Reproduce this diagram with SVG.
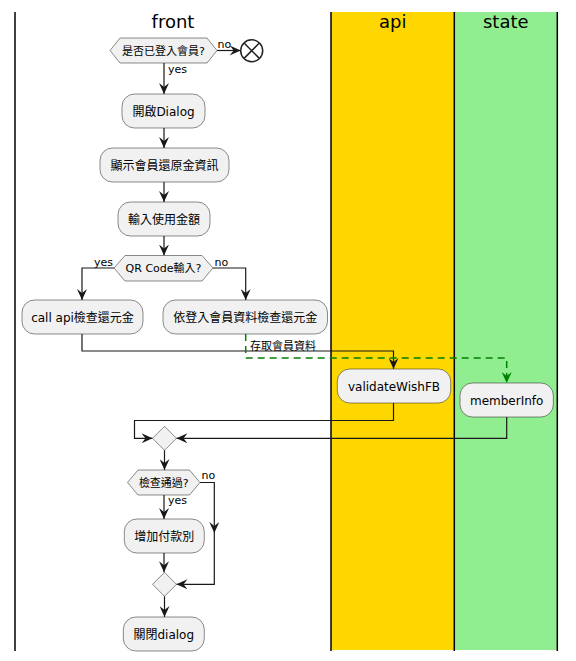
<svg xmlns="http://www.w3.org/2000/svg" width="576" height="661" viewBox="0 0 576 661">
<style>
text{font-family:"DejaVu Sans","Noto Sans CJK TC",sans-serif;fill:#000}
.hdr{font-size:18px;text-anchor:middle}
.lbl{font-size:12px;text-anchor:middle}
.hx{font-size:11px;text-anchor:middle}
.sm{font-size:11px}
.box{fill:#F1F1F1;stroke:#181818;stroke-width:0.5}
.lane{stroke:#000;stroke-width:1.5}
.c{fill:none;stroke:#181818;stroke-width:1.2}
.g{fill:none;stroke:#008000;stroke-width:1.5;stroke-dasharray:7,5}
</style>
<defs>
<marker id="ah" markerUnits="userSpaceOnUse" markerWidth="11" markerHeight="10" refX="11" refY="5" orient="auto" viewBox="0 0 11 10">
<path d="M0,0 L11,5 L0,10 L4,5 Z" fill="#181818"/>
</marker>
<marker id="ahg" markerUnits="userSpaceOnUse" markerWidth="11" markerHeight="10" refX="11" refY="5" orient="auto" viewBox="0 0 11 10">
<path d="M0,0 L11,5 L0,10 L4,5 Z" fill="#008000"/>
</marker>
</defs>
<g id="lanes">
<rect x="331" y="12" width="123.3" height="638" fill="#FFD700"/>
<rect x="454.3" y="12" width="103" height="638" fill="#90EE90"/>
<line class="lane" x1="15" y1="12" x2="15" y2="651"/>
<line class="lane" x1="331" y1="12" x2="331" y2="651"/>
<line class="lane" x1="454.3" y1="12" x2="454.3" y2="651"/>
<line class="lane" x1="557.3" y1="12" x2="557.3" y2="651"/>
<text class="hdr" x="173" y="28">front</text>
<text class="hdr" x="392.7" y="28">api</text>
<text class="hdr" x="505.8" y="28">state</text>
</g>
<g id="connectors">
<path class="c" d="M164,63 L164,94" marker-end="url(#ah)"/>
<path class="c" d="M217,50.5 L240.7,50.5" marker-end="url(#ah)"/>
<path class="c" d="M164,128 L164,148" marker-end="url(#ah)"/>
<path class="c" d="M164,182 L164,202" marker-end="url(#ah)"/>
<path class="c" d="M164,236 L164,255.5" marker-end="url(#ah)"/>
<path class="c" d="M114,268 L82,268 L82,300" marker-end="url(#ah)"/>
<path class="c" d="M213,268 L245.7,268 L245.7,300" marker-end="url(#ah)"/>
<path class="c" d="M82,334 L82,351 L393.5,351 L393.5,369" marker-end="url(#ah)"/>
<path class="g" d="M245.7,334 L245.7,358 L506.7,358 L506.7,383" marker-end="url(#ahg)"/>
<path class="c" d="M393.5,403 L393.5,420.5 L134.5,420.5 L134.5,438.3 L152.5,438.3" marker-end="url(#ah)"/>
<path class="c" d="M506.7,417 L506.7,438.3 L176.5,438.3" marker-end="url(#ah)"/>
<path class="c" d="M164.5,450.3 L164.5,470" marker-end="url(#ah)"/>
<path class="c" d="M164,495 L164,519" marker-end="url(#ah)"/>
<path class="c" d="M200,482.5 L214.3,482.5 L214.3,533" marker-end="url(#ah)"/>
<path class="c" d="M214.3,533 L214.3,584.3 L176.5,584.3" marker-end="url(#ah)"/>
<path class="c" d="M164,553 L164,572.3" marker-end="url(#ah)"/>
<path class="c" d="M164.5,596.3 L164.5,617" marker-end="url(#ah)"/>
<text class="sm" x="168" y="73">yes</text>
<text class="sm" x="217.5" y="48">no</text>
<text class="sm" x="113" y="266" text-anchor="end">yes</text>
<text class="sm" x="214.5" y="266">no</text>
<text class="sm" x="250" y="350">存取會員資料</text>
<text class="sm" x="201.5" y="479">no</text>
<text class="sm" x="168" y="504">yes</text>
</g>
<g id="d_login">
<polygon class="box" points="110,50.5 120,38 207,38 217,50.5 207,63 120,63"/>
<text class="hx" x="163.5" y="54.5">是否已登入會員?</text>
</g>
<g id="stop">
<circle cx="251.7" cy="50.7" r="11" fill="none" stroke="#222" stroke-width="1.5"/>
<path d="M244.3,43.3 L259.1,58.1 M259.1,43.3 L244.3,58.1" stroke="#222" stroke-width="1.5"/>
</g>
<g id="n_open">
<rect class="box" x="122" y="94" width="83" height="34" rx="12.5"/>
<text class="lbl" x="163.5" y="115.5">開啟Dialog</text>
</g>
<g id="n_show">
<rect class="box" x="100" y="148" width="129" height="34" rx="12.5"/>
<text class="lbl" x="164.5" y="169.5">顯示會員還原金資訊</text>
</g>
<g id="n_input">
<rect class="box" x="118" y="202" width="92" height="34" rx="12.5"/>
<text class="lbl" x="164" y="223.5">輸入使用金額</text>
</g>
<g id="d_qr">
<polygon class="box" points="114,268 125,255.5 202,255.5 213,268 202,281 125,281"/>
<text class="hx" x="163.5" y="272">QR Code輸入?</text>
</g>
<g id="n_callapi">
<rect class="box" x="22" y="300" width="121" height="34" rx="12.5"/>
<text class="lbl" x="82.5" y="321.5">call api檢查還元金</text>
</g>
<g id="n_local">
<rect class="box" x="163" y="300" width="164.5" height="34" rx="12.5"/>
<text class="lbl" x="245.3" y="321.5">依登入會員資料檢查還元金</text>
</g>
<g id="n_validate">
<rect class="box" x="337.3" y="369" width="113.4" height="34" rx="12.5"/>
<text class="lbl" x="394" y="390.5">validateWishFB</text>
</g>
<g id="n_member">
<rect class="box" x="460" y="383" width="93.3" height="34" rx="12.5"/>
<text class="lbl" x="506.7" y="404.5">memberInfo</text>
</g>
<g id="m1">
<polygon class="box" points="152.5,438.3 164.5,426.3 176.5,438.3 164.5,450.3"/>
</g>
<g id="d_check">
<polygon class="box" points="127.5,482.5 138,470 189.5,470 200,482.5 189.5,495 138,495"/>
<text class="hx" x="163.8" y="486.5">檢查通過?</text>
</g>
<g id="n_add">
<rect class="box" x="124.3" y="519" width="80" height="34" rx="12.5"/>
<text class="lbl" x="164.3" y="540.5">增加付款別</text>
</g>
<g id="m2">
<polygon class="box" points="152.5,584.3 164.5,572.3 176.5,584.3 164.5,596.3"/>
</g>
<g id="n_close">
<rect class="box" x="123.3" y="617" width="81" height="34" rx="12.5"/>
<text class="lbl" x="163.8" y="638.5">關閉dialog</text>
</g>
</svg>
